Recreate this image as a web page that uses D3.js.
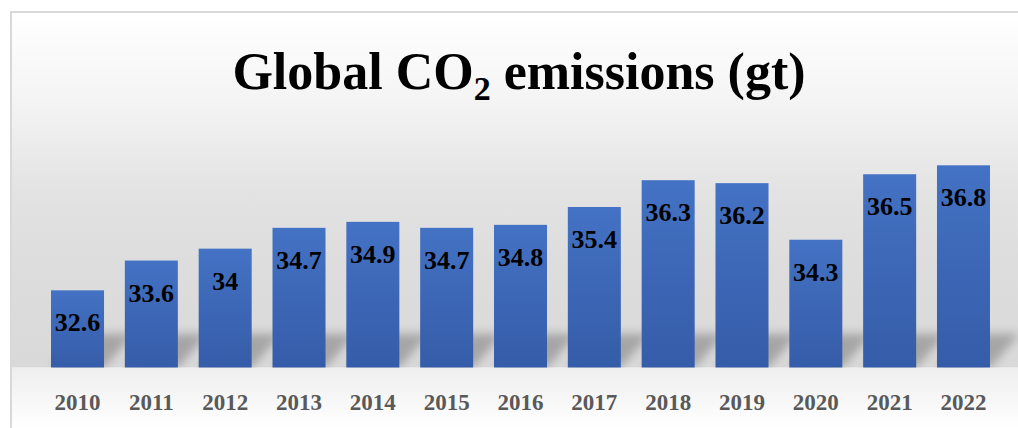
<!DOCTYPE html>
<html>
<head>
<meta charset="utf-8">
<script src="https://cdn.jsdelivr.net/npm/d3@7"></script>
<style>
  html, body { margin: 0; padding: 0; background: #ffffff; }
  svg { display: block; }
</style>
</head>
<body>
<svg id="chart" width="1018" height="428"></svg>
<script>
const years = ["2010","2011","2012","2013","2014","2015","2016","2017","2018","2019","2020","2021","2022"];
const emissions = [32.6, 33.6, 34, 34.7, 34.9, 34.7, 34.8, 35.4, 36.3, 36.2, 34.3, 36.5, 36.8];
const yDomain = [30, 38];
const titleMain = "Global CO";
const titleSub = "2";
const titleEnd = " emissions (gt)";

const W = 1018, H = 428;
const svg = d3.select("#chart");
const defs = svg.append("defs");

// background gradient (chart area)
const bg = defs.append("linearGradient").attr("id","bgGrad")
  .attr("x1",0).attr("y1",0).attr("x2",0).attr("y2",1);
[[0,"#ffffff"],[0.25,"#f4f4f4"],[0.5,"#e3e3e3"],[0.7,"#dddddd"],[1,"#d9d9d9"]]
  .forEach(([o,c]) => bg.append("stop").attr("offset",o).attr("stop-color",c));

const bg2 = defs.append("linearGradient").attr("id","bgGrad2")
  .attr("x1",0).attr("y1",0).attr("x2",0).attr("y2",1);
[[0,"#eeeeee"],[1,"#ffffff"]]
  .forEach(([o,c]) => bg2.append("stop").attr("offset",o).attr("stop-color",c));

const barGrad = defs.append("linearGradient").attr("id","barGrad")
  .attr("x1",0).attr("y1",0).attr("x2",0).attr("y2",1);
[[0,"#4472c4"],[1,"#355ca8"]]
  .forEach(([o,c]) => barGrad.append("stop").attr("offset",o).attr("stop-color",c));

const blur = defs.append("filter").attr("id","shadowBlur")
  .attr("x","-50%").attr("y","-50%").attr("width","200%").attr("height","200%");
blur.append("feGaussianBlur").attr("stdDeviation",5);

const x = d3.scaleBand().domain(years).range([40.6, 1000.4]).paddingInner(0.282).paddingOuter(0.141);
const y = d3.scaleLinear().domain(yDomain).range([367.7, 129.6]);
const base = y(yDomain[0]);

// chart area background
svg.append("rect").attr("x",11).attr("y",12).attr("width",W).attr("height",base-12)
  .attr("fill","url(#bgGrad)");
svg.append("rect").attr("x",11).attr("y",base).attr("width",W).attr("height",H-base)
  .attr("fill","url(#bgGrad2)");

// shadows
const bw = x.bandwidth();
svg.append("g").selectAll("path").data(years).join("path")
  .attr("d", d => {
    const x0 = x(d), x1 = x(d) + bw;
    const h = 34, s = 30;
    return `M${x0},${base} L${x1},${base} L${x1+s},${base-h} L${x0+s},${base-h} Z`;
  })
  .attr("fill","#7a7a7a")
  .attr("opacity",0.55)
  .attr("filter","url(#shadowBlur)");

// clip below base to hide shadow below floor
// bars
svg.append("g").selectAll("rect").data(years).join("rect")
  .attr("x", d => x(d))
  .attr("y", (d,i) => y(emissions[i]))
  .attr("width", bw)
  .attr("height", (d,i) => base - y(emissions[i]))
  .attr("fill","url(#barGrad)");

// repaint floor below base to cover shadow bleed
svg.append("rect").attr("x",12).attr("y",base).attr("width",W).attr("height",H-base)
  .attr("fill","url(#bgGrad2)");

// border
svg.append("rect").attr("x",11).attr("y",12).attr("width",W+20).attr("height",H+20)
  .attr("fill","none").attr("stroke","#d9d9d9").attr("stroke-width",2);

// data labels
svg.append("g").selectAll("text").data(years).join("text")
  .attr("x", d => x(d) + bw/2)
  .attr("y", (d,i) => y(emissions[i]) + 41)
  .attr("text-anchor","middle")
  .attr("font-family","'Liberation Serif', serif")
  .attr("font-weight","bold")
  .attr("font-size",26)
  .attr("fill","#000000")
  .text((d,i) => String(emissions[i]));

// x axis labels
const xAxis = d3.axisBottom(x).tickSize(0).tickPadding(0);
const ax = svg.append("g").attr("transform",`translate(0,${base})`).call(xAxis);
ax.select(".domain").remove();
ax.selectAll("text")
  .attr("y", 42)
  .attr("dy", 0)
  .attr("font-family","'Liberation Serif', serif")
  .attr("font-weight","bold")
  .attr("font-size",23)
  .attr("fill","#595959");

// title
const t = svg.append("text")
  .attr("x",519).attr("y",89)
  .attr("text-anchor","middle")
  .attr("font-family","'Liberation Serif', serif")
  .attr("font-weight","bold")
  .attr("font-size",52)
  .attr("fill","#000000");
t.append("tspan").text(titleMain);
t.append("tspan").attr("font-size",34).attr("dy",11).text(titleSub);
t.append("tspan").attr("dy",-11).text(titleEnd);
</script>
</body>
</html>
